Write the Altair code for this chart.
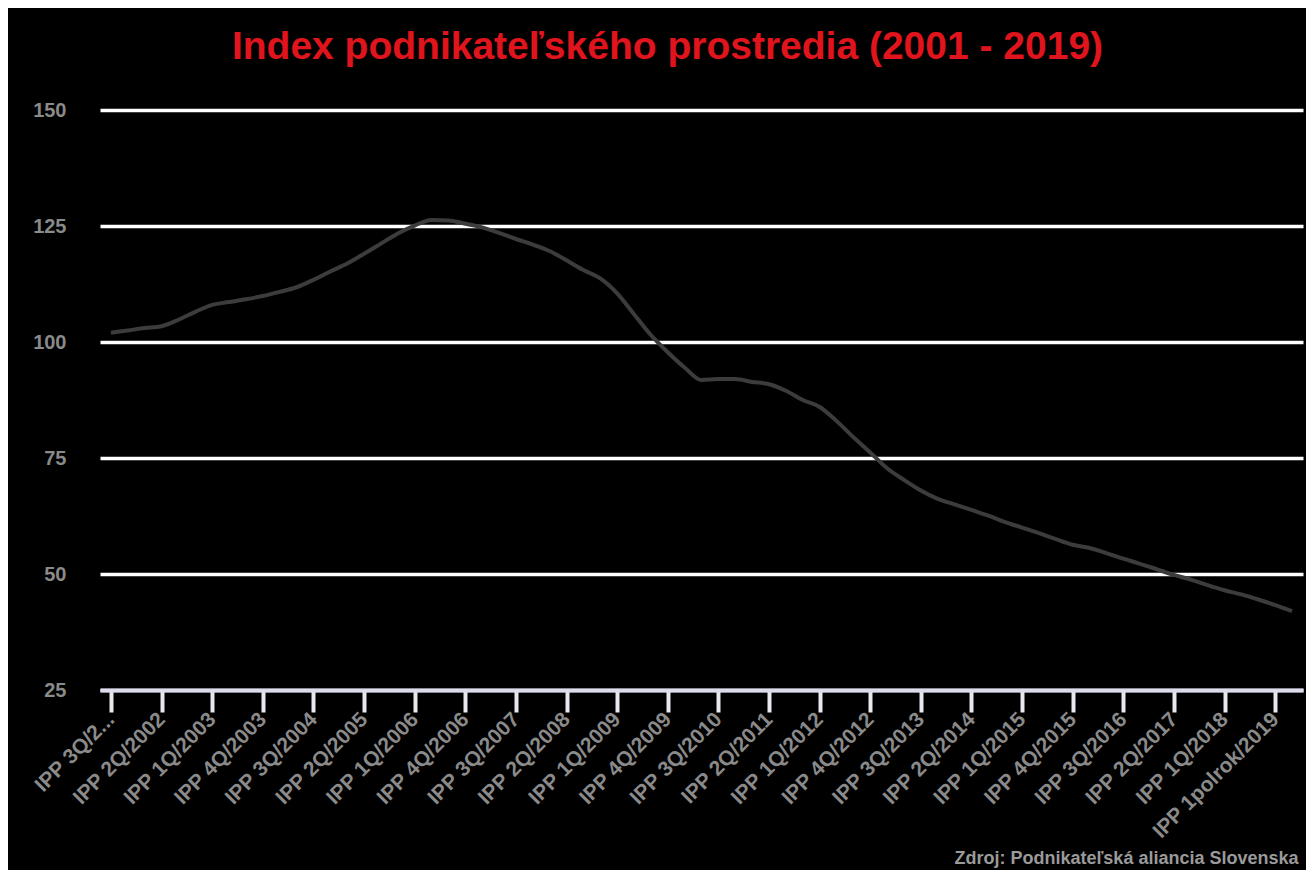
import altair as alt
import pandas as pd

# Quarterly categories 3Q/2001 ... 3Q/2018, then half-year
quarters = []
y, q = 2001, 3
while (y, q) <= (2018, 3):
    quarters.append(f"IPP {q}Q/{y}")
    q += 1
    if q == 5:
        q, y = 1, y + 1
categories = quarters + ["IPP 1polrok/2019", "IPP 2polrok/2019"]

values = [
    102.0, 102.5, 103.0, 103.4, 104.8, 106.5, 108.0, 108.6, 109.2, 109.9,
    110.8, 111.8, 113.4, 115.2, 116.9, 119.0, 121.2, 123.4, 125.1, 126.3,
    126.2, 125.5, 124.7, 123.5, 122.2, 121.0, 119.6, 117.6, 115.5, 113.7,
    110.5, 106.0, 101.5, 97.8, 94.5, 91.8, 92.0, 92.0, 91.4, 90.9,
    89.5, 87.5, 86.0, 83.0, 79.5, 76.2, 72.8, 70.3, 68.0, 66.2,
    65.0, 63.8, 62.6, 61.2, 60.0, 58.8, 57.5, 56.3, 55.6, 54.5,
    53.3, 52.2, 51.0, 49.8, 48.8, 47.6, 46.5, 45.6, 44.5, 43.3,
    42.0,
]

shown_labels = categories[0:70:3]
y_ticks = [25, 50, 75, 100, 125, 150]

title_text = "Index podnikateľského prostredia (2001 - 2019)"
source_text = "Zdroj: Podnikateľská aliancia Slovenska"

df = pd.DataFrame({"obdobie": categories, "ipp": values})

chart = (
    alt.Chart(df)
    .mark_line(color="#3c3c3c", strokeWidth=4, interpolate="monotone")
    .encode(
        x=alt.X(
            "obdobie:N",
            sort=categories,
            scale=alt.Scale(type="point", padding=0.65),
            axis=alt.Axis(
                values=shown_labels,
                labelAngle=-45,
                labelAlign="right",
                labelBaseline="middle",
                labelColor="#8a8a8a",
                labelFont="Liberation Sans",
                labelFontWeight="bold",
                labelFontSize=21,
                labelPadding=4,
                labelOverlap=False,
                labelLimit=300,
                labelExpr="datum.value == 'IPP 3Q/2001' ? 'IPP 3Q/2...' : datum.label",
                domainColor="#dcdcec",
                domainWidth=4,
                tickColor="#e8e8ee",
                tickWidth=4,
                tickSize=22,
                grid=False,
                title=source_text,
                titleColor="#9a9a9a",
                titleFont="Liberation Sans",
                titleFontWeight="bold",
                titleFontSize=18,
                titleAnchor="end",
                titleAlign="right",
                titleBaseline="middle",
                titleX=1198,
                titleY=168,
            ),
        ),
        y=alt.Y(
            "ipp:Q",
            scale=alt.Scale(domain=[25, 150], nice=False, zero=False),
            axis=alt.Axis(
                values=y_ticks,
                domain=False,
                ticks=False,
                labelColor="#8a8a8a",
                labelFont="Liberation Sans",
                labelFontWeight="bold",
                labelFontSize=20,
                labelPadding=34,
                gridColor="#ffffff",
                gridWidth=3.5,
                title=None,
            ),
        ),
    )
    .properties(
        width=1203,
        height=580,
        background="#000000",
        padding={"left": 92, "top": 102, "right": 3, "bottom": 180},
        autosize=alt.AutoSizeParams(type="none"),
        title=alt.TitleParams(
            text=title_text,
            color="#e0141c",
            font="Liberation Sans",
            fontWeight="bold",
            fontSize=39,
            anchor="middle",
            dx=-34,
            offset=33,
        ),
    )
    .configure_view(stroke=None)
)

chart.save("out.html", embed_options={"renderer": "svg", "actions": False})
